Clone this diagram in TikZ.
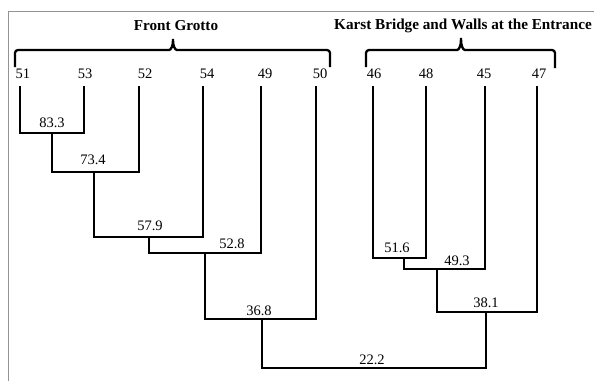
\documentclass[tikz,border=0pt]{standalone}
\usepackage{fontspec}
\setmainfont{Liberation Serif}
\begin{document}
\begin{tikzpicture}[x=1pt,y=-1pt,
  tree/.style={line width=1.8pt, line join=miter},
  val/.style={font=\fontsize{14.5}{16}\selectfont, anchor=base, inner sep=0pt},
  leaf/.style={font=\fontsize{14.5}{16}\selectfont, anchor=base, inner sep=0pt},
  brace/.style={line width=2.3pt, rounded corners=3pt},
  ttl/.style={font=\fontsize{15.2}{17}\selectfont\bfseries, anchor=base, inner sep=0pt},
  frame/.style={draw=gray!85, line width=0.9pt}]
\useasboundingbox (0,0) rectangle (594,381);
\draw[frame] (8,381) -- (8,11) -- (594,11);
% titles
\node[ttl] (tfg) at (176,30) {Front Grotto};
\node[ttl] (tkb) at (463,29.5) {Karst Bridge and Walls at the Entrance};
% brackets
\draw[brace] (15,67) -- (15,50) -- (166,50) .. controls (171,50) and (173,46) .. (173,37)
  .. controls (173,46) and (175,50) .. (180,50) -- (330,50) -- (330,67);
\draw[brace] (366,67) -- (366,50) -- (454,50) .. controls (459,50) and (461,46) .. (461,36)
  .. controls (461,46) and (463,50) .. (468,50) -- (555,50) -- (555,68);
% leaf labels
\node[leaf] (n51) at (23,78) {51};
\node[leaf] (n53) at (85,78) {53};
\node[leaf] (n52) at (145,78) {52};
\node[leaf] (n54) at (207,78) {54};
\node[leaf] (n49) at (265,78) {49};
\node[leaf] (n50) at (320,78) {50};
\node[leaf] (n46) at (374,78) {46};
\node[leaf] (n48) at (426,78) {48};
\node[leaf] (n45) at (484,78) {45};
\node[leaf] (n47) at (539,78) {47};
% leaf tops
\coordinate (t51) at (20,86);
\coordinate (t53) at (84,86);
\coordinate (t52) at (139,86);
\coordinate (t54) at (203,86);
\coordinate (t49) at (261,86);
\coordinate (t50) at (316,86);
\coordinate (t46) at (373,86);
\coordinate (t48) at (426,86);
\coordinate (t45) at (485,86);
\coordinate (t47) at (537,86);
% merge points
\coordinate (m833) at (52,133);
\coordinate (m734) at (94,172);
\coordinate (m579) at (149,237);
\coordinate (m528) at (205,253);
\coordinate (m368) at (262,319);
\coordinate (m516) at (404,258);
\coordinate (m493) at (437,269);
\coordinate (m381) at (486,312);
\coordinate (root) at (374,368);
% dendrogram
\draw[tree] (t51) |- (m833) -| (t53);
\draw[tree] (m833) |- (m734) -| (t52);
\draw[tree] (m734) |- (m579) -| (t54);
\draw[tree] (m579) |- (m528) -| (t49);
\draw[tree] (m528) |- (m368) -| (t50);
\draw[tree] (t46) |- (m516) -| (t48);
\draw[tree] (m516) |- (m493) -| (t45);
\draw[tree] (m493) |- (m381) -| (t47);
\draw[tree] (m368) |- (root) -| (m381);
% values
\node[val] (v833) at (52,127) {83.3};
\node[val] (v734) at (93,164) {73.4};
\node[val] (v579) at (150,230) {57.9};
\node[val] (v528) at (232,248) {52.8};
\node[val] (v368) at (259,315) {36.8};
\node[val] (v222) at (372,364) {22.2};
\node[val] (v516) at (397,252) {51.6};
\node[val] (v493) at (457,265) {49.3};
\node[val] (v381) at (486,307) {38.1};
\end{tikzpicture}
\end{document}
